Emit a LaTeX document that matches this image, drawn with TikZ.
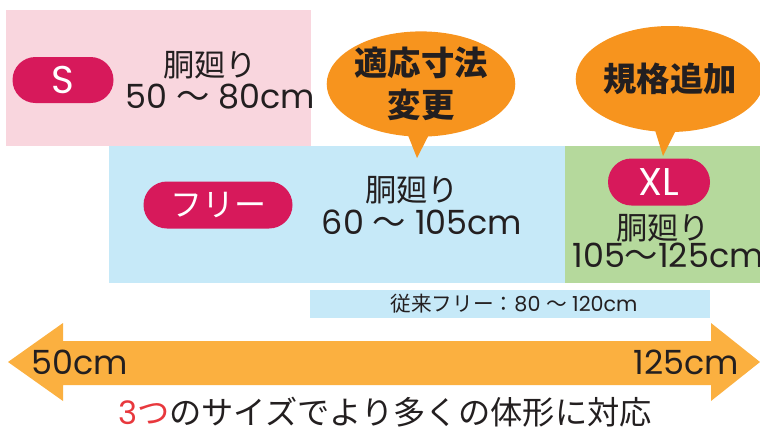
\documentclass[tikz,border=0pt]{standalone}
\usepackage{fontspec}
\setmainfont{Poppins}
\newfontfamily\jp{Noto Sans CJK JP}
\usetikzlibrary{positioning, shapes.misc, shapes.callouts}

\definecolor{pinkbg}{RGB}{249,214,222}
\definecolor{bluebg}{RGB}{198,233,248}
\definecolor{greenbg}{RGB}{181,217,156}
\definecolor{pillred}{RGB}{215,25,91}
\definecolor{bubbleorange}{RGB}{247,148,30}
\definecolor{arroworange}{RGB}{251,176,64}
\definecolor{textgray}{RGB}{35,31,32}
\definecolor{numred}{RGB}{232,56,61}

\begin{document}
\begin{tikzpicture}[x=0.75pt,y=0.75pt,yscale=-1,xscale=1,
  pill/.style={rounded rectangle, fill=pillred, text=white, inner sep=0pt},
  waist/.style={text=textgray, inner sep=0pt, font=\jp\fontsize{23.5}{26}\selectfont},
  cmrange/.style={text=textgray, inner sep=0pt, font=\fontsize{25}{28}\selectfont},
  bubble/.style={ellipse callout, fill=bubbleorange, text=textgray, inner sep=0pt, align=center,
    callout pointer arc=12, font=\jp\bfseries\fontsize{25}{32}\selectfont}]
\useasboundingbox (0,0) rectangle (760,433);
\clip (0,0) rectangle (760,433);

%Shape: Rectangle S
\fill [pinkbg] (6,10) rectangle (311,146);
%Shape: Rectangle Free
\fill [bluebg] (109,146) rectangle (565,283);
%Shape: Rectangle XL
\fill [greenbg] (565,146) rectangle (760,283);
%Shape: Rectangle old free
\fill [bluebg] (310,290) rectangle (710,318);

%Shape: Double arrow
\fill [arroworange] (8,362) -- (63,323) -- (63,341) -- (711,341) -- (711,323) -- (760,362)
  -- (711,401) -- (711,385) -- (63,385) -- (63,401) -- cycle ;

% Pills
\node [pill, minimum width=75.75pt, minimum height=34.5pt, font=\fontsize{29}{30}\selectfont] (sizes) at (63,80) {S};
\node [pill, minimum width=111.75pt, minimum height=35.25pt, font=\jp\fontsize{24}{26}\selectfont] (sizefree) at (218,205) {フリー};
\node [pill, minimum width=76.5pt, minimum height=35.25pt, font=\fontsize{29}{30}\selectfont] (sizexl) at (659,182) {XL};

% Text Node
\node [waist] (waists) at (210,65) {胴廻り};
\node [cmrange] (ranges) at (220,97) {50 {\jp 〜} 80cm};
\node [waist] (waistfree) at (412,190) {胴廻り};
\node [cmrange] (rangefree) at (422,222) {60 {\jp 〜} 105cm};
\node [waist] (waistxl) at (663,228) {胴廻り};
\node [cmrange] (rangexl) at (668,255) {105{\jp 〜}125cm};
\node [text=textgray, inner sep=0pt, font=\fontsize{15.5}{17}\selectfont] (oldfree) at (514,304) {{\jp 従来フリー：}80 {\jp 〜} 120cm};

% Bubbles
\node [bubble, minimum width=139.5pt, minimum height=78.75pt, callout absolute pointer={(417,158)}] (change) at (421,84) {適応寸法\\変更};
\node [bubble, minimum width=139pt, minimum height=79.5pt, callout absolute pointer={(663,156)}] (addsize) at (670,79) {規格追加};

% Arrow labels
\node [text=textgray, inner sep=0pt, font=\fontsize{25}{28}\selectfont] (min) at (80,362) {50cm};
\node [text=textgray, inner sep=0pt, font=\fontsize{25}{28}\selectfont] (max) at (686,362) {125cm};
\node [text=textgray, inner sep=0pt, font=\jp\fontsize{24.2}{27}\selectfont] (caption) at (385,412) {{\color{numred}{\fontspec{Poppins}3}つ}のサイズでより多くの体形に対応};
\end{tikzpicture}
\end{document}
